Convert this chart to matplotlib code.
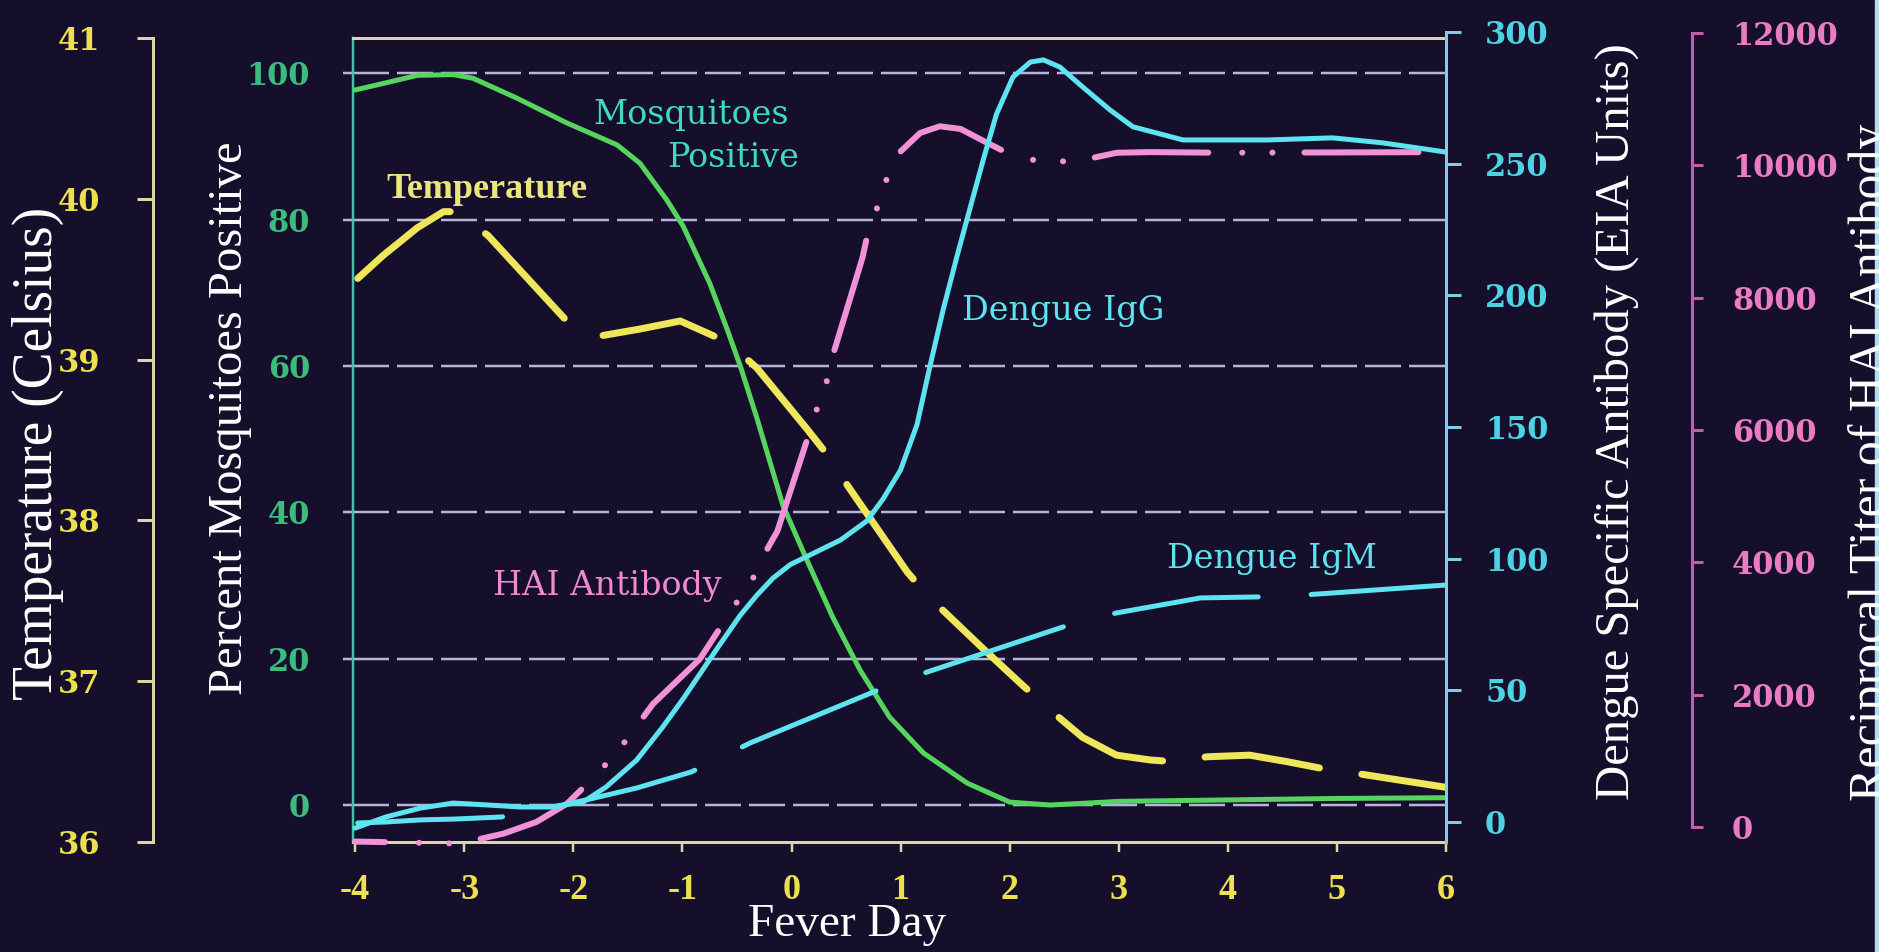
import matplotlib
matplotlib.use("Agg")
import matplotlib.pyplot as plt
from matplotlib.patches import Rectangle

plt.rcParams['lines.scale_dashes'] = False
plt.rcParams['axes.unicode_minus'] = False

# ---- data ----
day_ticks = list(range(-4, 7))
temp_ticks = [36, 37, 38, 39, 40, 41]
pct_ticks = [0, 20, 40, 60, 80, 100]
eia_ticks = [0, 50, 100, 150, 200, 250, 300]
hai_ticks = [0, 2000, 4000, 6000, 8000, 10000, 12000]

# Percent mosquitoes positive (green, solid)
mosq_day = [-4.0, -3.74, -3.43, -3.1, -2.92, -2.52, -2.06, -1.60, -1.39, -1.14, -0.99,
            -0.75, -0.59, -0.47, -0.32, -0.08, 0.14, 0.38, 0.63, 0.90, 1.21, 1.61,
            2.00, 2.37, 3.0, 4.0, 5.0, 6.0]
mosq_pct = [97.7, 98.6, 99.7, 99.8, 99.3, 96.6, 93.2, 90.2, 87.7, 82.6, 79.0,
            71.3, 65.0, 60.0, 53.0, 41.0, 33.5, 25.6, 18.4, 12.0, 7.1, 3.0,
            0.4, 0.0, 0.5, 0.7, 0.9, 1.0]

# Temperature (yellow, long dashes)
temp_day = [-4.0, -3.74, -3.43, -3.19, -3.07, -2.78, -2.06, -1.73, -1.39, -1.02, -0.59,
            -0.32, 0.14, 0.35, 0.49, 1.06, 1.25, 1.76, 2.11, 2.39, 2.67, 2.98, 3.29,
            3.49, 3.81, 4.20, 4.54, 4.92, 5.24, 6.0]
temp_c = [39.49, 39.65, 39.82, 39.92, 39.92, 39.77, 39.24, 39.15, 39.19, 39.24, 39.11,
          38.95, 38.57, 38.39, 38.24, 37.68, 37.53, 37.20, 36.98, 36.81, 36.65, 36.54, 36.51,
          36.50, 36.53, 36.54, 36.50, 36.45, 36.42, 36.34]

# HAI antibody titer (pink, dash-dot-dot)
hai_day = [-4.0, -3.04, -2.64, -2.34, -2.06, -1.81, -1.60, -1.42, -1.27, -0.84, -0.50,
           -0.35, -0.24, -0.13, 0.17, 0.24, 0.32, 0.37, 0.65, 0.70, 0.78, 0.84, 1.00,
           1.18, 1.36, 1.55, 1.77, 2.07, 2.39, 2.67, 2.98, 3.29, 3.96, 6.0]
hai_titer = [-220, -250, -100, 75, 350, 755, 1130, 1525, 1860, 2540, 3400,
             3770, 4150, 4470, 5990, 6355, 6715, 7080, 8600, 8980, 9330, 9680, 10210,
             10490, 10590, 10550, 10360, 10110, 10050, 10080, 10190, 10200, 10190, 10200]

# Dengue IgG (cyan, solid)
igg_day = [-4.0, -3.72, -3.40, -3.10, -2.80, -2.49, -2.19, -1.91, -1.70, -1.42, -1.18,
           -0.99, -0.68, -0.47, -0.32, -0.17, -0.01, 0.14, 0.45, 0.69, 0.84, 1.00, 1.15,
           1.27, 1.39, 1.52, 1.64, 1.76, 1.88, 2.03, 2.19, 2.31, 2.46, 2.67, 2.92, 3.13,
           3.59, 4.36, 4.96, 5.42, 6.0]
igg_eia = [-2.3, 1.9, 5.3, 7.2, 6.5, 5.7, 5.7, 7.6, 13.3, 23.5, 36.1,
           47.0, 66.0, 78.5, 86.0, 92.6, 97.8, 100.8, 107.1, 114.3, 122.7, 133.7, 150.8,
           173.2, 194.5, 215.3, 233.6, 251.8, 268.9, 282.9, 288.6, 289.4, 286.7, 279.1, 270.4,
           264.0, 259.0, 259.0, 259.8, 257.9, 254.4]

# Dengue IgM (cyan, long dashes)
igm_day = [-4.0, -3.72, -3.40, -3.10, -2.66, -2.21, -1.88, -1.42, -0.92, -0.51, -0.38,
           0.84, 1.24, 2.60, 2.98, 3.75, 4.32, 4.73, 6.0]
igm_eia = [-0.4, 0.0, 0.8, 1.1, 1.9, 5.5, 8.4, 12.9, 19.0, 27.3, 30.0,
           50.9, 56.9, 75.6, 79.4, 85.1, 85.5, 86.3, 90.0]

# ---- look ----
W, H, DPI = 1879, 952, 100
PT = 72.0 / DPI          # points per pixel

BG = '#150f2b'
YELLOW = '#f0e65a'
PALE = '#dcd6a6'
GREEN = '#55d45e'
GREEN_TXT = '#3cbc7c'
CYAN = '#5ee4f0'
CYAN_AX = '#7ccfea'
PINK = '#f292d6'
PINK_AX = '#c45cb0'
GRID = '#b6b4da'
AQUA_TXT = '#3ed8c4'


def fx(x):
    return x / W


def fy(y):
    return 1 - y / H


def dash(offset, *seq):
    # pixel lengths -> points
    return (offset * PT, tuple(v * PT for v in seq))


# plot box in pixels
L, R, T, B = 353, 1446, 38, 842
box = [fx(L), fy(B), fx(R) - fx(L), fy(T) - fy(B)]

fig = plt.figure(figsize=(W / DPI, H / DPI), dpi=DPI, facecolor=BG)

num_font = dict(fontfamily='DejaVu Serif', fontweight='bold', fontsize=22)

# main axes: percent mosquitoes positive
ax = fig.add_axes(box)
ax.set_facecolor('none')
ax.set_xlim(-4.02, 6.0)
ax.set_ylim(-5.05, 104.8)
ax.set_axisbelow(True)
for s in ('top', 'bottom'):
    ax.spines[s].set_color(PALE)
    ax.spines[s].set_linewidth(3 * PT)
ax.spines['left'].set_color('#3ec4a8')
ax.spines['left'].set_linewidth(2.5 * PT)
ax.spines['right'].set_visible(False)
ax.set_yticks(pct_ticks, labels=[str(v) for v in pct_ticks], color=GREEN_TXT, **num_font)
ax.tick_params(axis='y', direction='out', length=10 * PT, width=2.5 * PT, color=GRID, pad=33 * PT)
ax.set_xticks(day_ticks, labels=[str(d) for d in day_ticks], color='#ece04c',
              fontfamily='Liberation Serif', fontweight='bold', fontsize=26)
ax.tick_params(axis='x', direction='out', length=10 * PT, width=2.5 * PT, color=PALE, pad=22 * PT)
ax.grid(axis='y', color=GRID, linewidth=2.5 * PT, linestyle=dash(0, 36, 8))
ax.grid(axis='x', visible=False)
ax.plot(mosq_day, mosq_pct, color=GREEN, lw=5 * PT, solid_capstyle='round',
        solid_joinstyle='round', zorder=3)

# temperature axis (bracket on far left)
ax_t = fig.add_axes(box, sharex=ax)
ax_t.set_facecolor('none')
ax_t.set_ylim(36, 41)
for s in ('top', 'bottom', 'right'):
    ax_t.spines[s].set_visible(False)
ax_t.spines['left'].set_position(('axes', (153 - L) / (R - L)))
ax_t.spines['left'].set_color(PALE)
ax_t.spines['left'].set_linewidth(3 * PT)
ax_t.set_yticks(temp_ticks, labels=[str(v) for v in temp_ticks], color='#ece04c', **num_font)
ax_t.tick_params(axis='y', direction='out', length=16 * PT, width=3 * PT, color=PALE, pad=37 * PT)
ax_t.xaxis.set_visible(False)
ax_t.plot(temp_day, temp_c, color=YELLOW, lw=7 * PT, dash_capstyle='round',
          dash_joinstyle='round', linestyle=dash(154.9, 115.6, 42.8), zorder=3)

# HAI titer axis (bracket on far right)
ax_h = fig.add_axes([fx(L), fy(827), fx(R) - fx(L), fy(33) - fy(827)], sharex=ax)
ax_h.set_facecolor('none')
ax_h.set_ylim(0, 12000)
for s in ('top', 'bottom', 'left'):
    ax_h.spines[s].set_visible(False)
ax_h.spines['right'].set_position(('axes', (1692 - L) / (R - L)))
ax_h.spines['right'].set_color(PINK_AX)
ax_h.spines['right'].set_linewidth(3 * PT)
ax_h.yaxis.tick_right()
ax_h.set_yticks(hai_ticks, labels=[str(v) for v in hai_ticks], color='#ea7cc4', **num_font)
ax_h.tick_params(axis='y', direction='out', length=11 * PT, width=3 * PT, color=PINK_AX, pad=29 * PT)
ax_h.xaxis.set_visible(False)
ax_h.plot(hai_day, hai_titer, color=PINK, lw=6 * PT, dash_capstyle='round',
          dash_joinstyle='round', clip_on=False,
          linestyle=dash(84.2, 114, 34, 0.1, 30, 0.1, 32), zorder=3)

# Dengue EIA axis (right edge of box)
ax_e = fig.add_axes([fx(L), fy(B), fx(R) - fx(L), fy(32) - fy(B)], sharex=ax)
ax_e.set_facecolor('none')
ax_e.set_ylim(-(B - 822) / (790 / 300), 300)
for s in ('top', 'bottom', 'left'):
    ax_e.spines[s].set_visible(False)
ax_e.spines['right'].set_color(CYAN_AX)
ax_e.spines['right'].set_linewidth(3 * PT)
ax_e.yaxis.tick_right()
ax_e.set_yticks(eia_ticks, labels=[str(v) for v in eia_ticks], color='#4cd2e2', **num_font)
ax_e.tick_params(axis='y', direction='out', length=15 * PT, width=3 * PT, color=CYAN_AX, pad=24 * PT)
ax_e.xaxis.set_visible(False)
ax_e.plot(igm_day, igm_eia, color=CYAN, lw=5 * PT, dash_capstyle='round',
          dash_joinstyle='round', linestyle=dash(195.5, 145, 53), zorder=3)
ax_e.plot(igg_day, igg_eia, color=CYAN, lw=5 * PT, solid_capstyle='round',
          solid_joinstyle='round', zorder=3)

# ---- curve labels ----
lab = dict(fontfamily='DejaVu Serif', fontsize=24, ha='center', va='baseline')
fig.text(fx(487), fy(198), 'Temperature', color='#ece47c', fontfamily='Liberation Serif',
         fontweight='bold', fontsize=26, ha='center', va='baseline')
fig.text(fx(691), fy(124), 'Mosquitoes', color=AQUA_TXT, **lab)
fig.text(fx(733), fy(167), 'Positive', color=AQUA_TXT, **lab)
fig.text(fx(1063), fy(320), 'Dengue IgG', color=CYAN, **lab)
fig.text(fx(607), fy(595), 'HAI Antibody', color='#f08ad0', **lab)
fig.text(fx(1272), fy(568), 'Dengue IgM', color=CYAN, **lab)

# ---- axis titles ----
ttl = dict(color='white', fontfamily='Liberation Serif', rotation=90, ha='center', va='center')
fig.text(fx(38), fy(453), 'Temperature (Celsius)', fontsize=40, **ttl)
fig.text(fx(230), fy(418), 'Percent Mosquitoes Positive', fontsize=35, **ttl)
fig.text(fx(1617), fy(422), 'Dengue Specific Antibody (EIA Units)', fontsize=35, **ttl)
fig.text(fx(1872), fy(462), 'Reciprocal Titer of HAI Antibody', fontsize=36, **ttl)
fig.text(fx(847), fy(925), 'Fever Day', color='white', fontfamily='Liberation Serif',
         fontsize=34, ha='center', va='center')

# pale frame strip at the right edge of the slide photo
fig.patches.append(Rectangle((fx(1875), 0), 4 / W, 1, transform=fig.transFigure,
                             color='#b4dcf0', zorder=0))

fig.savefig('out.png', dpi=DPI, facecolor=BG)
